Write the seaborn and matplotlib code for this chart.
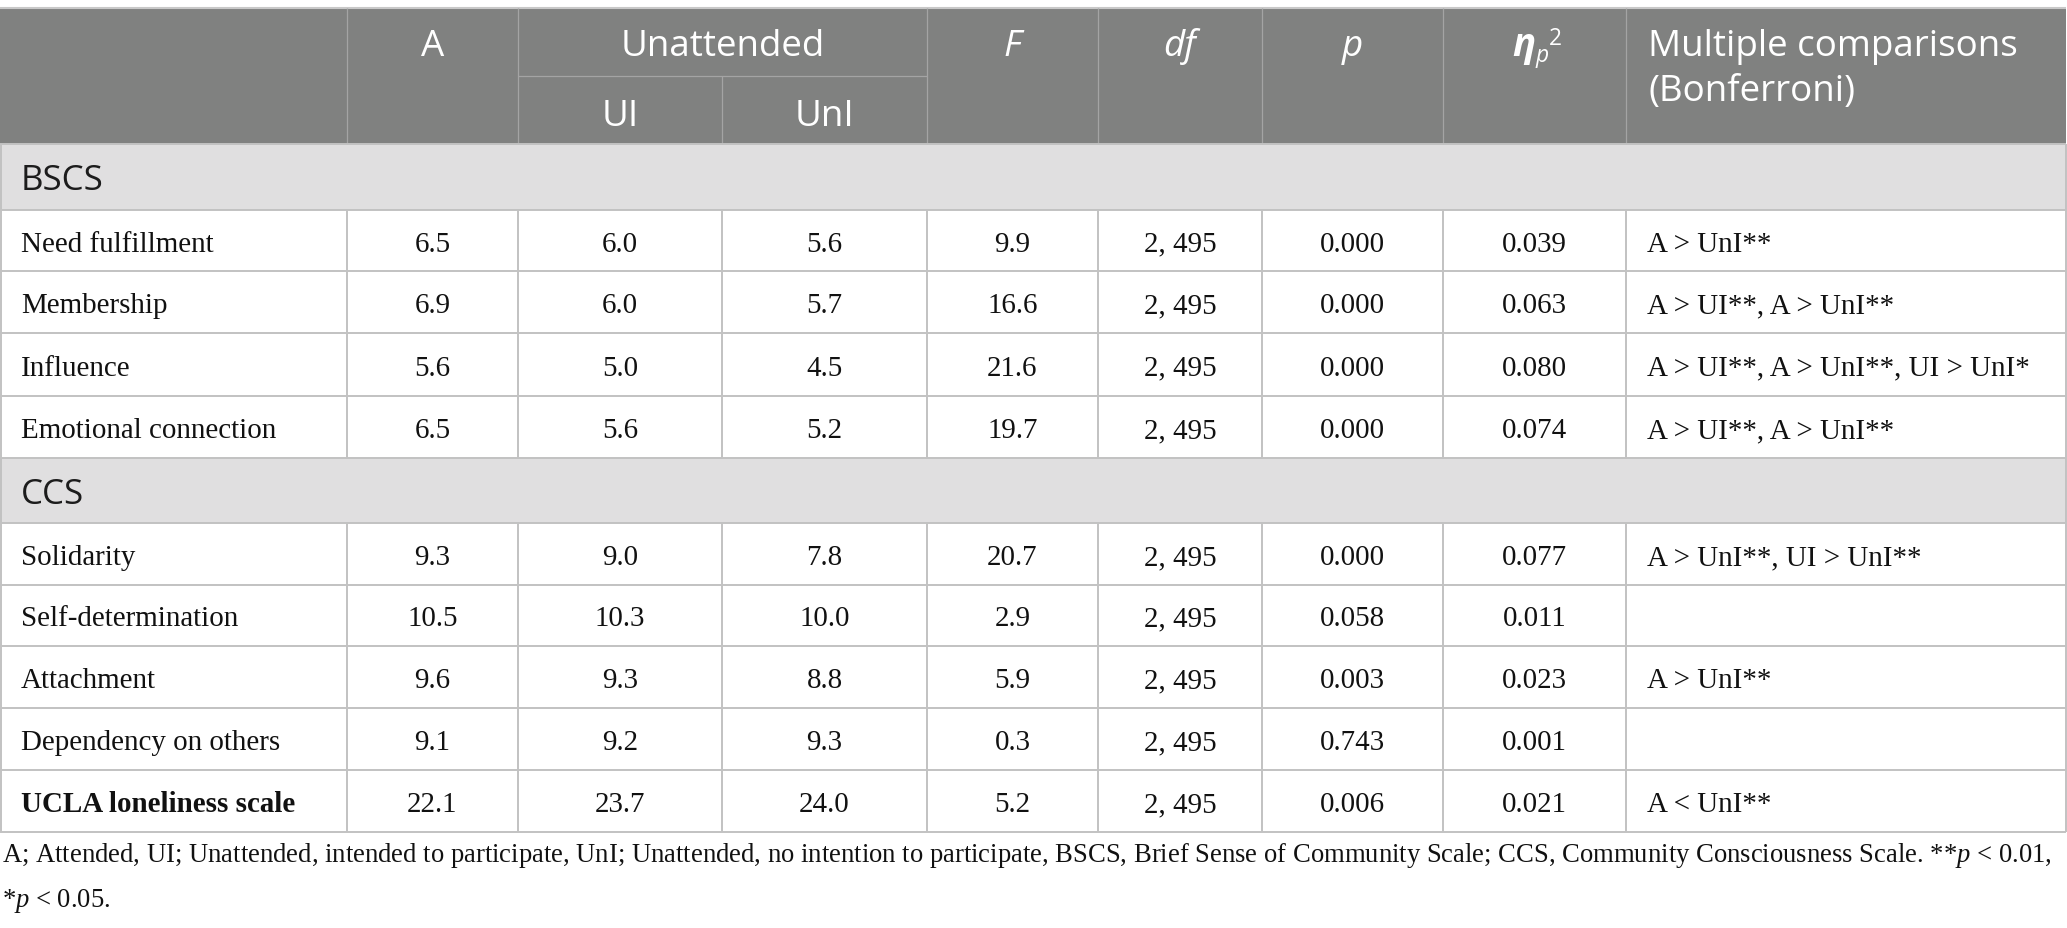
import numpy as np
import matplotlib.pyplot as plt
from matplotlib.patches import Rectangle
import seaborn as sns

# ---- table contents ----
sections = ["BSCS", "CCS"]
row_labels = ["Need fulfillment", "Membership", "Influence", "Emotional connection",
              "Solidarity", "Self-determination", "Attachment", "Dependency on others",
              "UCLA loneliness scale"]
a_vals = [6.5, 6.9, 5.6, 6.5, 9.3, 10.5, 9.6, 9.1, 22.1]
ui_vals = [6.0, 6.0, 5.0, 5.6, 9.0, 10.3, 9.3, 9.2, 23.7]
uni_vals = [5.6, 5.7, 4.5, 5.2, 7.8, 10.0, 8.8, 9.3, 24.0]
f_vals = [9.9, 16.6, 21.6, 19.7, 20.7, 2.9, 5.9, 0.3, 5.2]
df_vals = ["2, 495"] * 9
p_vals = [0.000, 0.000, 0.000, 0.000, 0.000, 0.058, 0.003, 0.743, 0.006]
eta_vals = [0.039, 0.063, 0.080, 0.074, 0.077, 0.011, 0.023, 0.001, 0.021]
comparisons = ["A > UnI**", "A > UI**, A > UnI**", "A > UI**, A > UnI**, UI > UnI*",
               "A > UI**, A > UnI**", "A > UnI**, UI > UnI**", "", "A > UnI**", "",
               "A < UnI**"]
foot1 = ("A; Attended, UI; Unattended, intended to participate, UnI; Unattended, "
         "no intention to participate, BSCS, Brief Sense of Community Scale; CCS, "
         "Community Consciousness Scale. **$p$ < 0.01,")
foot2 = "*$p$ < 0.05."

SANS = "Open Sans"
SERIF = "Liberation Serif"
HEAD_BG = "#808180"
SECT_BG = "#e0dfe0"
GRID = "#c2c2c2"

sns.set_theme(style="white")
plt.rcParams["font.family"] = [SERIF, "DejaVu Serif"]
plt.rcParams["mathtext.fontset"] = "custom"
plt.rcParams["mathtext.rm"] = SERIF
plt.rcParams["mathtext.it"] = SERIF + ":italic"

W, H = 2067, 929
fig = plt.figure(figsize=(W / 100, H / 100), dpi=100)
ax = fig.add_axes([0, 0, 1, 1])
ax.set_xlim(0, W)
ax.set_ylim(H, 0)
ax.axis("off")
rend = fig.canvas.get_renderer()


def fitted(txt, target, **kw):
    t = ax.text(0, 0, txt, fontsize=20, **kw)
    w = t.get_window_extent(renderer=rend).width
    t.remove()
    return 20 * target / w


head_fs = fitted("Multiple comparisons", 369, family=SANS)
sect_fs = fitted("CCS", 63, family=SANS)
body_fs = fitted("Self-determination", 218, family=SERIF)
foot_fs = fitted(foot1, 2052, family=SERIF)

# ---- geometry (pixels) ----
cols = [0, 347, 518, 722, 927, 1098, 1262, 1443, 1626, 2066]
top, head_mid, head_bot = 8.5, 77, 145
edges = [145, 211, 272, 334, 397, 459, 524, 586, 647, 709, 771, 833]
layout = ["s0", 0, 1, 2, 3, "s1", 4, 5, 6, 7, 8]
centers = [(cols[i] + cols[i + 1]) / 2 for i in range(len(cols) - 1)]

# header block
ax.add_patch(Rectangle((0, top), cols[-1], head_bot - top, color=HEAD_BG, lw=0))
ax.hlines(top, 0, cols[-1], color="#c8c8c8", lw=1.5)
for x in cols[1:-1]:
    if x == 722:
        ax.vlines(x, head_mid, head_bot, color="#a4a4a4", lw=0.9)
    else:
        ax.vlines(x, top, head_bot, color="#a4a4a4", lw=0.9)
ax.hlines(head_mid, cols[2], cols[4], color="#a4a4a4", lw=0.9)

hkw = dict(family=SANS, color="white", fontsize=head_fs, va="baseline")
b1, b2 = 56, 126
ax.text(centers[1], b1, "A", ha="center", **hkw)
ax.text((cols[2] + cols[4]) / 2, b1, "Unattended", ha="center", **hkw)
ax.text(centers[2], b2, "UI", ha="center", **hkw)
ax.text(centers[3], b2, "UnI", ha="center", **hkw)
ax.text(centers[4], b1, "F", ha="center", style="italic", **hkw)
ax.text(centers[5], b1, "df", ha="center", style="italic", **hkw)
ax.text(centers[6], b1, "p", ha="center", style="italic", **hkw)

# eta_p^2: pieces laid out one after another
x_run = 1512
for s, yb, scale, st, wt in [("η", b1, 1.05, "italic", "bold"),
                              ("p", 62, 0.62, "italic", "normal"),
                              ("2", 45, 0.62, "normal", "normal")]:
    t = ax.text(x_run, yb, s, ha="left", va="baseline", family=SANS, color="white",
                fontsize=head_fs * scale, style=st, weight=wt)
    x_run = t.get_window_extent(renderer=rend).x1 + 0.5

ax.text(1648, b1, "Multiple comparisons", ha="left", **hkw)
ax.text(1648, 101, "(Bonferroni)", ha="left", **hkw)

# body rows
for k, item in enumerate(layout):
    y0, y1 = edges[k], edges[k + 1]
    yc = (y0 + y1) / 2
    if isinstance(item, str):
        ax.add_patch(Rectangle((0, y0), cols[-1], y1 - y0, color=SECT_BG, lw=0))
        ax.text(21, yc + 12, sections[int(item[1])], family=SANS, color="#1c1c1c",
                fontsize=sect_fs, va="baseline", ha="left")
        continue
    i = item
    ax.vlines(cols[1:-1], y0, y1, color=GRID, lw=1.4)
    bkw = dict(family=SERIF, color="#111111", fontsize=body_fs, va="baseline")
    yb = yc + 10
    ax.text(21, yb, row_labels[i], ha="left",
            weight="bold" if i == len(row_labels) - 1 else "normal", **bkw)
    cells = [f"{a_vals[i]:.1f}", f"{ui_vals[i]:.1f}", f"{uni_vals[i]:.1f}",
             f"{f_vals[i]:.1f}", df_vals[i], f"{p_vals[i]:.3f}", f"{eta_vals[i]:.3f}"]
    for c, s in enumerate(cells):
        ax.text(centers[c + 1], yb, s, ha="center", **bkw)
    ax.text(1647, yb, comparisons[i], ha="left", **bkw)

ax.hlines(edges, 0, cols[-1], color=GRID, lw=1.4)
ax.vlines([0.7, cols[-1]], head_bot, edges[-1], color=GRID, lw=1.4)

# footnote
ax.text(2, 862, foot1, family=SERIF, color="#111111", fontsize=foot_fs,
        va="baseline", ha="left")
ax.text(2, 907, foot2, family=SERIF, color="#111111", fontsize=foot_fs,
        va="baseline", ha="left")

fig.savefig("out.png", dpi=100, facecolor="white")
